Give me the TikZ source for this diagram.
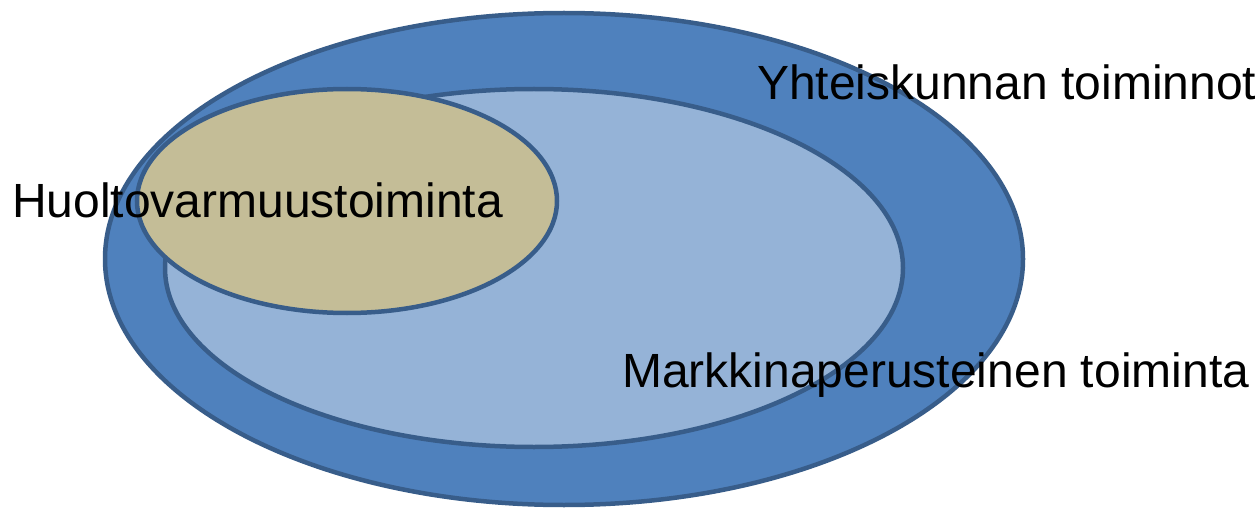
\documentclass[tikz,border=0pt]{standalone}
\usepackage{fontspec}
\setmainfont{Liberation Sans}
\definecolor{outerblue}{HTML}{4F81BD}
\definecolor{lightblue}{HTML}{95B3D7}
\definecolor{tan}{HTML}{C4BD97}
\definecolor{edgeblue}{HTML}{385D8A}
\begin{document}
\begin{tikzpicture}[x=1pt,y=-1pt,
  blob/.style={draw=edgeblue,line width=4.5pt},
  lbl/.style={inner sep=0pt,anchor=base west,font=\fontsize{48}{56}\selectfont}]
\useasboundingbox (0,0) rectangle (1259,508);
\path[blob,fill=outerblue] (564,259) ellipse [x radius=459,y radius=246];
\path[blob,fill=lightblue] (534,268) ellipse [x radius=369,y radius=179];
\path[blob,fill=tan] (347,201) ellipse [x radius=210,y radius=112];
\node[lbl] (y) at (757,100) {Yhteiskunnan toiminnot};
\node[lbl] (h) at (12,217) {Huoltovarmuustoiminta};
\node[lbl] (m) at (622,387) {Markkinaperusteinen toiminta};
\end{tikzpicture}
\end{document}
